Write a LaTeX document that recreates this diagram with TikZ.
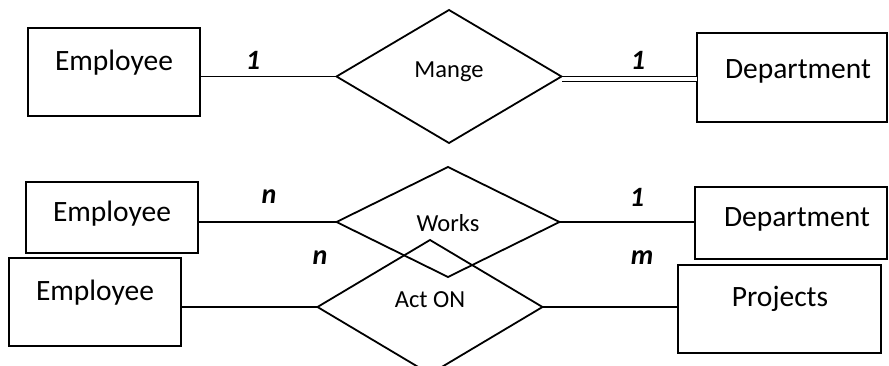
\documentclass[tikz,border=0pt]{standalone}
\usepackage{fontspec}
\setmainfont{Carlito}
\usetikzlibrary{shapes.geometric}
\begin{document}
\begin{tikzpicture}[x={(1pt,0)},y={(0,-1pt)},
  ent/.style={draw,line width=1.8pt,rectangle,inner sep=0pt,outer sep=0pt},
  rel/.style={draw,line width=1.8pt,diamond,inner sep=0pt,outer sep=0pt},
  conn/.style={line width=1.8pt},
  enttext/.style={inner sep=0pt,font=\fontsize{29.5}{34}\selectfont},
  reltext/.style={inner sep=0pt,font=\fontsize{24.5}{29}\selectfont},
  card/.style={inner sep=0pt,font=\fontsize{28}{32}\selectfont\bfseries\itshape}]
\useasboundingbox (0,0) rectangle (889,366);
% entities
\node[ent,minimum width=172pt,minimum height=88pt] (emp1) at (114,72) {};
\node[ent,minimum width=190pt,minimum height=89pt] (dept1) at (792,77.5) {};
\node[ent,minimum width=172pt,minimum height=71pt] (emp2) at (112,217.5) {};
\node[ent,minimum width=192pt,minimum height=72pt] (dept2) at (791,223) {};
\node[ent,minimum width=172pt,minimum height=88pt] (emp3) at (95,302) {};
\node[ent,minimum width=203pt,minimum height=88pt] (proj) at (779.5,309) {};
% entity texts
\node[enttext] (emp1t) at (114,63) {Employee};
\node[enttext] (dept1t) at (798,71) {Department};
\node[enttext] (emp2t) at (112,214) {Employee};
\node[enttext] (dept2t) at (797,219) {Department};
\node[enttext] (emp3t) at (95,293) {Employee};
\node[enttext] (projt) at (780,299) {Projects};
% relationships
\node[rel,minimum width=225pt,minimum height=133pt] (mange) at (449,76.5) {};
\node[rel,minimum width=223pt,minimum height=110pt] (works) at (448,222) {};
\node[rel,minimum width=225pt,minimum height=134pt] (acton) at (430,307) {};
\node[reltext] (manget) at (449,72) {Mange};
\node[reltext] (workst) at (448,223) {Works};
\node[reltext] (actont) at (430,300) {Act ON};
% connectors
\draw[conn] (emp1.east |- mange.west) -- (mange.west);
\draw[line width=1.6pt,double,double distance=3.2pt] ([yshift=-2.5pt]mange.east) -- ([yshift=-2.5pt]mange.east -| dept1.west);
\draw[conn] (emp2.east |- works.west) -- (works.west);
\draw[conn] (works.east) -- (works.east -| dept2.west);
\draw[conn] (emp3.east |- acton.west) -- (acton.west);
\draw[conn] (acton.east) -- (acton.east -| proj.west);
% cardinalities
\node[card] (c1) at (253,60) {1};
\node[card] (c2) at (638,60) {1};
\node[card] (c3) at (269,197) {n};
\node[card] (c4) at (637,197) {1};
\node[card] (c5) at (320,258) {n};
\node[card] (c6) at (642,258) {m};
\end{tikzpicture}
\end{document}
